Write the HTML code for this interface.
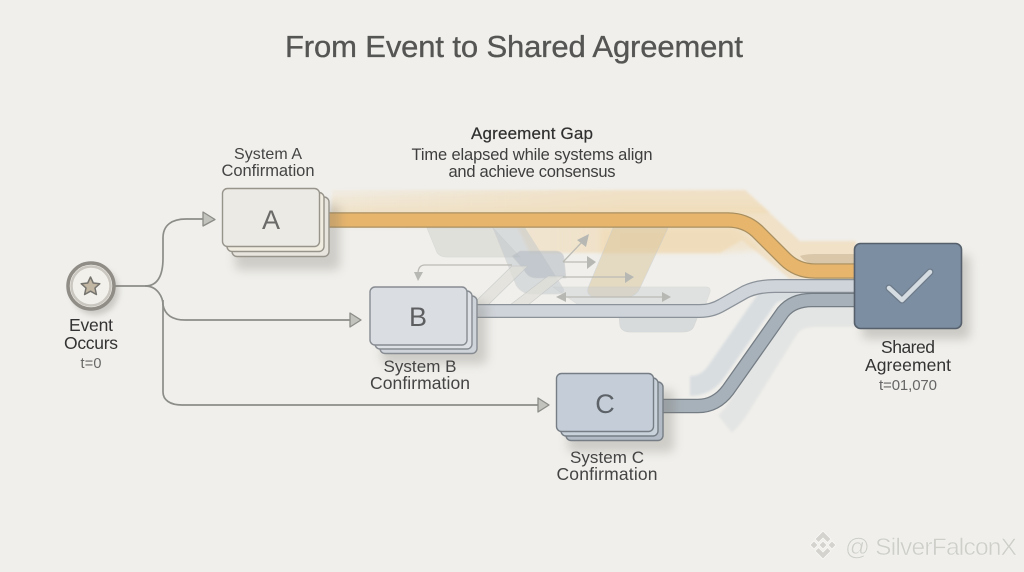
<!DOCTYPE html>
<html><head><meta charset="utf-8"><style>
html,body{margin:0;padding:0;background:#f0efeb}
svg{display:block}
text{font-family:"Liberation Sans",sans-serif;text-anchor:middle}
</style></head><body>
<svg width="1024" height="572" viewBox="0 0 1024 572" xmlns="http://www.w3.org/2000/svg">
<defs>
<filter id="b3" x="-30%" y="-30%" width="160%" height="160%"><feGaussianBlur stdDeviation="3"/></filter>
<filter id="b5" x="-30%" y="-30%" width="160%" height="160%"><feGaussianBlur stdDeviation="5"/></filter>
<filter id="b1" x="-30%" y="-30%" width="160%" height="160%"><feGaussianBlur stdDeviation="1.2"/></filter>
<linearGradient id="og" gradientUnits="userSpaceOnUse" x1="330" y1="0" x2="620" y2="0"><stop offset="0" stop-color="#f0dcba" stop-opacity=".22"/><stop offset="1" stop-color="#f0dcba" stop-opacity=".72"/></linearGradient>
<linearGradient id="og2" gradientUnits="userSpaceOnUse" x1="0" y1="187" x2="0" y2="213"><stop offset="0" stop-color="#f0e0c4" stop-opacity=".1"/><stop offset="1" stop-color="#efd6a8" stop-opacity=".85"/></linearGradient>
</defs>
<rect width="1024" height="572" fill="#f0efeb"/>

<text x="514" y="57" font-size="31" fill="#555654" stroke="#555654" stroke-width=".35" textLength="458">From Event to Shared Agreement</text>

<!-- halos -->
<path d="M332 190 H745 L800 241 H856 V279 H790 L742 240 L720 253 H530 L518 228 H332Z" fill="url(#og)" filter="url(#b1)"/>
<path d="M332 196 L600 192 L745 190 L770 213 H332Z" fill="url(#og2)" opacity=".5" filter="url(#b1)"/>
<path d="M600 228 H735 L760 250 L720 253 H600Z" fill="#efd6a8" opacity=".4" filter="url(#b3)"/>
<path d="M725 424 Q730 420 737 410 L788 328 Q796 316 815 316 H856" fill="none" stroke="#e3e5e4" stroke-width="22" filter="url(#b1)"/>
<path d="M690 386 Q706 386 716 372 L766 300 Q772 290 790 290 H856" fill="none" stroke="#d8dde0" stroke-width="20" filter="url(#b1)"/>

<!-- gap shapes -->
<g stroke="#c2c5c6" stroke-width=".7">
<path d="M427 228 H493 L520 257 H447 Q438 257 436 250Z" fill="#d2d2cc" opacity=".5"/>
<path d="M493 228 H525 L563 288 Q566 294 556 294 H532 Q522 294 516 285Z" fill="#bcc3c9" opacity=".45"/>
<path d="M520 251 H555 Q563 251 564 258 L566 278 H536 Q528 278 524 270 L512 256Z" fill="#aeb7c0" opacity=".5"/>
<path d="M512 266 H528 L488 305 H472Z" fill="#e0dfd9" opacity=".75"/>
<path d="M548 276 H564 L528 305 H510Z" fill="#e0dfd9" opacity=".75"/>
<path d="M613 228 H668 L640 288 Q636 297 626 297 H597 Q586 297 588 288Z" fill="#dcc9a2" opacity=".55"/>
<path d="M553 287 H706 Q711 287 710 292 L705 306 H580Z" fill="#c8ced3" opacity=".42"/>
<path d="M619 316 H698 L694 326 Q692 332 682 332 H630 Q622 332 620 326Z" fill="#c4cbd1" opacity=".55"/>
</g>
<g fill="none" stroke="#bbbbb5" stroke-width="1.3">
<path d="M512 265 H425 Q418 265 418 274"/>
<path d="M563 262 L583 241"/>
<path d="M563 262 H590"/>
<path d="M563 277 H628"/>
<path d="M562 297 H666"/>
</g>
<g fill="#b7b8b3">
<path d="M414 272 H423 L418 281Z"/>
<path d="M589 234 L586 247 L577 240Z"/>
<path d="M587 256 L596 262 L587 269Z"/>
<path d="M625 272 L634 277 L625 283Z"/>
<path d="M566 292 L556 297 L566 302Z"/>
<path d="M662 292 L671 297 L662 302Z"/>
</g>

<!-- orange band -->
<path d="M328 220 H728 Q745 220 757 231 L785 259 Q797 271 815 271 H856" fill="none" stroke="#a98f5f" stroke-width="15.5"/>
<path d="M328 220 H728 Q745 220 757 231 L785 259 Q797 271 815 271 H856" fill="none" stroke="#e7b56c" stroke-width="13"/>
<path d="M800 256 Q806 254 815 254 H856 V263 H812 Q805 263 800 256Z" fill="#c3ad8b" opacity=".5"/>

<!-- B band -->
<path d="M476 311 H700 Q712 311 722 305 L745 292 Q757 286 775 286 H856" fill="none" stroke="#8b9299" stroke-width="14"/>
<path d="M476 311 H700 Q712 311 722 305 L745 292 Q757 286 775 286 H856" fill="none" stroke="#cfd4da" stroke-width="11.500"/>

<!-- C band -->
<path d="M662 406 H698 Q716 406 728 390 L783 312 Q793 300 812 300 H856" fill="none" stroke="#747c84" stroke-width="14.500"/>
<path d="M662 406 H698 Q716 406 728 390 L783 312 Q793 300 812 300 H856" fill="none" stroke="#a7b1b9" stroke-width="12"/>

<!-- connectors -->
<g fill="none" stroke="#8c8c88" stroke-width="1.7">
<path d="M115 286 H145 C158 286 163 275 163 258 V238 C163 225 172 219 186 219 H204"/>
<path d="M145 286 C158 286 163 298 163 305 C165 315 172 320 185 320 H350"/>
<path d="M163 300 V392 C163 400 170 405 182 405 H538"/>
</g>
<g fill="#c3c3bd" stroke="#8c8c88" stroke-width="1.3" stroke-linejoin="round">
<path d="M203 212 L215 219.5 L203 226Z"/>
<path d="M350 313 L361 320 L350 327Z"/>
<path d="M538 398 L549 405 L538 412Z"/>
</g>

<!-- shadows -->
<rect x="235" y="205" width="105" height="65" rx="5" fill="#77736b" opacity=".28" filter="url(#b5)"/>
<rect x="382" y="302" width="105" height="62" rx="5" fill="#77736b" opacity=".28" filter="url(#b5)"/>
<rect x="568" y="390" width="106" height="62" rx="5" fill="#77736b" opacity=".28" filter="url(#b5)"/>
<rect x="862" y="255" width="108" height="84" rx="5" fill="#77736b" opacity=".3" filter="url(#b5)"/>
<circle cx="95" cy="291" r="24" fill="#77736b" opacity=".3" filter="url(#b3)"/>

<!-- box A -->
<g stroke="#97948c" stroke-width="1.4">
<rect x="232" y="197" width="97" height="59.500" rx="5" fill="#e8e5de"/>
<rect x="227" y="192.500" width="97" height="59" rx="5" fill="#f0ece0"/>
<rect x="222.500" y="188.500" width="97" height="58" rx="5" fill="#eceae5"/>
</g>
<text x="271" y="229" font-size="27" fill="#6a6a68">A</text>

<!-- box B -->
<g stroke="#878c92" stroke-width="1.4">
<rect x="380" y="296" width="97" height="57.500" rx="5" fill="#cfd4da"/>
<rect x="375" y="291" width="97" height="58" rx="5" fill="#dde0e4"/>
<rect x="370" y="287" width="97" height="58" rx="5" fill="#dadee3"/>
</g>
<text x="418" y="326" font-size="27" fill="#5d5e60">B</text>

<!-- box C -->
<g stroke="#767d85" stroke-width="1.4">
<rect x="566" y="382" width="97" height="58.500" rx="5" fill="#b3bcc6"/>
<rect x="561" y="378" width="97" height="58" rx="5" fill="#c9d2da"/>
<rect x="556.500" y="373.500" width="97" height="58" rx="5" fill="#c5ced8"/>
</g>
<text x="605" y="413" font-size="27" fill="#5d6268">C</text>

<!-- shared -->
<rect x="854.500" y="243.500" width="107" height="85" rx="6" fill="#7c8ea2" stroke="#55606c" stroke-width="1.6"/>
<path d="M889 288 L902 300 L930 272" fill="none" stroke="#6d7b8a" stroke-width="7" stroke-linecap="round" stroke-linejoin="round"/>
<path d="M889 288 L902 300 L930 272" fill="none" stroke="#d5dce2" stroke-width="4.500" stroke-linecap="round" stroke-linejoin="round"/>

<!-- event -->
<circle cx="91" cy="286" r="23" fill="#f2f0ea" stroke="#8f8d86" stroke-width="3.500"/>
<circle cx="91" cy="286" r="19.500" fill="none" stroke="#c9c7c0" stroke-width="2.500"/>
<path d="M90.500 277 L93.300 283 L99.800 283.700 L95 288 L96.400 294.500 L90.500 291.200 L84.600 294.500 L86 288 L81.200 283.700 L87.700 283Z" fill="#c2b7a3" stroke="#76746e" stroke-width="1.500" stroke-linejoin="round"/>

<!-- labels -->
<g fill="#333">
<text x="91" y="331" font-size="17.500" textLength="44">Event</text>
<text x="91" y="349" font-size="17.500" textLength="54">Occurs</text>
<text x="91" y="368" font-size="14.500" fill="#666" textLength="21">t=0</text>

<text x="268" y="159" font-size="16" fill="#444" textLength="68">System A</text>
<text x="268" y="176" font-size="16.500" fill="#444" textLength="93">Confirmation</text>

<text x="532" y="139" font-size="17" fill="#2f2f2f" stroke="#2f2f2f" stroke-width=".2" textLength="122">Agreement Gap</text>
<text x="532" y="160" font-size="16.500" fill="#3e3e3e" textLength="241">Time elapsed while systems align</text>
<text x="532" y="177" font-size="16.500" fill="#3e3e3e" textLength="167">and achieve consensus</text>

<text x="420" y="372" font-size="17" fill="#444" textLength="73">System B</text>
<text x="420" y="389" font-size="17.500" fill="#444" textLength="100">Confirmation</text>

<text x="607" y="463" font-size="17" fill="#444" textLength="74">System C</text>
<text x="607" y="480" font-size="17.500" fill="#444" textLength="101">Confirmation</text>

<text x="908" y="353" font-size="17.500" fill="#333" textLength="54">Shared</text>
<text x="908" y="371" font-size="17.500" fill="#333" textLength="86">Agreement</text>
<text x="908" y="390" font-size="15" fill="#666" textLength="58">t=01,070</text>
</g>

<!-- watermark -->
<g fill="#d4d3ce" stroke="#f9f9f7" stroke-width=".8">
<path d="M823 531 L831 539 L827.500 542.500 L823 538 L818.500 542.500 L815 539Z"/>
<path d="M823 559 L831 551 L827.500 547.500 L823 552 L818.500 547.500 L815 551Z"/>
<path d="M810 545 L814 541 L818 545 L814 549Z"/>
<path d="M836 545 L832 541 L828 545 L832 549Z"/>
<path d="M823 541 L827 545 L823 549 L819 545Z"/>
</g>
<text x="931" y="555" font-size="24.500" fill="#cfcfca" stroke="#f8f8f6" stroke-width=".3" textLength="172">@ SilverFalconX</text>
</svg>
</body></html>
